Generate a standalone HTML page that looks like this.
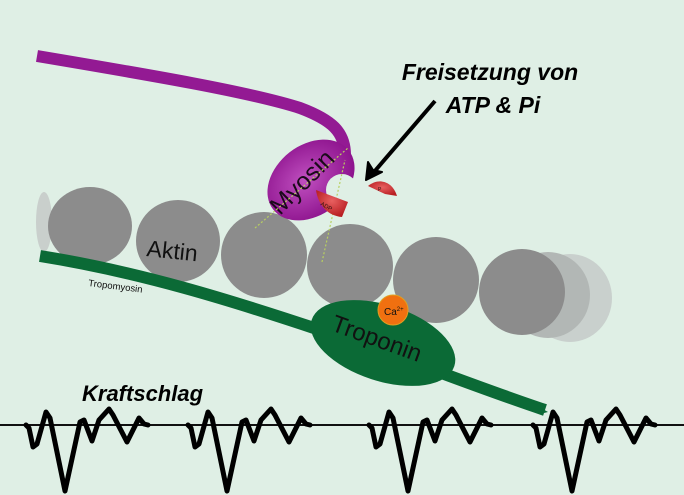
<!DOCTYPE html>
<html><head><meta charset="utf-8"><style>
html,body{margin:0;padding:0;width:684px;height:495px;overflow:hidden;background:#dfefe5}
svg{display:block}
</style></head><body>
<svg width="684" height="495" viewBox="0 0 684 495" xmlns="http://www.w3.org/2000/svg">
<defs>
<radialGradient id="myo" cx="0.45" cy="0.45" r="0.6"><stop offset="0" stop-color="#c050c0"/><stop offset="1" stop-color="#8a0f8a"/></radialGradient>
<radialGradient id="red" cx="0.5" cy="0.4" r="0.6"><stop offset="0" stop-color="#e86060"/><stop offset="1" stop-color="#b81e22"/></radialGradient>
</defs>
<ellipse cx="570" cy="298" rx="42" ry="44" fill="#c9d0cd"/>
<ellipse cx="548" cy="295" rx="42" ry="43" fill="#b2b7b5"/>
<ellipse cx="44" cy="222" rx="8" ry="30" fill="#c9cfcc"/>
<g fill="#8c8c8c">
<ellipse cx="90" cy="226" rx="42" ry="39"/>
<ellipse cx="178" cy="241" rx="42" ry="41"/>
<ellipse cx="264" cy="255" rx="43" ry="43"/>
<ellipse cx="350" cy="266" rx="43" ry="42"/>
<ellipse cx="436" cy="280" rx="43" ry="43"/>
<ellipse cx="522" cy="292" rx="43" ry="43"/>
</g>
<text x="146" y="256" font-family="Liberation Sans, sans-serif" font-size="23" fill="#111" transform="rotate(6 146 256)">Aktin</text>
<path d="M40,256 C140,272 230,300 320,330 C400,356 470,385 545,410" stroke="#0b6a36" stroke-width="12" fill="none"/>
<path d="M520,396 L548,412 L540,414 Z" fill="#0b6a36"/>
<text x="88" y="286" font-family="Liberation Sans, sans-serif" font-size="9.5" fill="#111" transform="rotate(7 88 286)">Tropomyosin</text>
<ellipse cx="383" cy="343" rx="75" ry="38" fill="#0b6a36" transform="rotate(18 383 343)"/>
<text x="330" y="330" font-family="Liberation Sans, sans-serif" font-size="24" fill="#111" transform="rotate(20 330 330)">Troponin</text>
<circle cx="393" cy="310" r="15" fill="#f07010" stroke="#e0a020" stroke-width="1"/>
<text x="384" y="315" font-family="Liberation Sans, sans-serif" font-size="10" fill="#111">Ca<tspan font-size="6" dy="-4">2+</tspan></text>
<path d="M37,56 C150,75 250,92 300,108 C332,120 345,132 345,155" stroke="#931a93" stroke-width="12" fill="none"/>
<ellipse cx="311" cy="180" rx="48" ry="35" fill="url(#myo)" transform="rotate(-38 311 180)"/>
<circle cx="342" cy="190" r="16" fill="#dfefe5"/>
<text x="280" y="216" font-family="Liberation Sans, sans-serif" font-size="25" fill="#1a0a1a" transform="rotate(-45 280 216)">Myosin</text>
<path d="M255,228 L348,148 M322,262 L345,160" stroke="#b8d060" stroke-width="1.2" stroke-dasharray="2,2" fill="none"/>
<path d="M316,190 C318,205 328,216 342,217 L348,202 Z" fill="url(#red)"/>
<text x="320" y="205" font-family="Liberation Sans, sans-serif" font-size="6" fill="#311" transform="rotate(30 320 205)">ADP</text>
<path d="M368,186 C378,178 392,180 397,196 L385,194 Z" fill="url(#red)"/>
<text x="378" y="191" font-family="Liberation Sans, sans-serif" font-size="5" fill="#311">P</text>
<line x1="435" y1="101" x2="374" y2="172" stroke="#000" stroke-width="4"/>
<path d="M366,180 L368,162 L373,170 L382,172 Z" fill="#000" stroke="#000" stroke-width="2" stroke-linejoin="round"/>
<text x="490" y="80" text-anchor="middle" font-family="Liberation Sans, sans-serif" font-size="23" font-weight="bold" font-style="italic" fill="#000">Freisetzung von</text>
<text x="493" y="113" text-anchor="middle" font-family="Liberation Sans, sans-serif" font-size="23" font-weight="bold" font-style="italic" fill="#000">ATP &amp; Pi</text>
<text x="82" y="401" font-family="Liberation Sans, sans-serif" font-size="22" font-weight="bold" font-style="italic" fill="#000">Kraftschlag</text>
<line x1="0" y1="425" x2="684" y2="425" stroke="#111" stroke-width="2"/>
<g id="w" fill="none" stroke="#000" stroke-width="5" stroke-linejoin="round" stroke-linecap="round">
<polyline points="26,425 29,428 33,447 37,444 46,412 50,418 65,491 80,422 84,420 92,441 99,420 109,409 113,415 127,442 133,430 139,418 144,424 148,425"/>
</g>
<use href="#w" transform="translate(162,0)"/>
<use href="#w" transform="translate(343,0)"/>
<use href="#w" transform="translate(507,0)"/>
</svg>
</body></html>
